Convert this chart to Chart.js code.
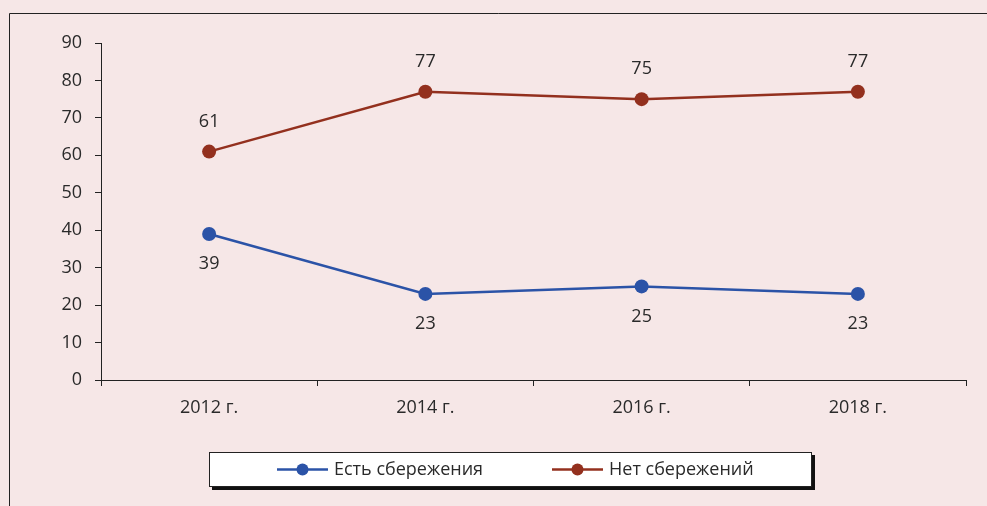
<!DOCTYPE html>
<html>
<head>
<meta charset="utf-8">
<script src="https://cdn.jsdelivr.net/npm/chart.js@4"></script>
<style>
html,body{margin:0;padding:0;background:#F6E7E7;}
#wrap{position:relative;width:987px;height:506px;}
</style>
</head>
<body>
<div id="wrap"><canvas id="c" width="987" height="506"></canvas></div>
<script>
const categories = ['2012 г.', '2014 г.', '2016 г.', '2018 г.'];
const seriesNames = ['Есть сбережения', 'Нет сбережений'];
const savingsYes = [39, 23, 25, 23];
const savingsNo = [61, 77, 75, 77];
const yTicks = [0, 10, 20, 30, 40, 50, 60, 70, 80, 90];

const BLUE = '#2B53A7';
const RED = '#93301E';
const TEXT = '#2a2a2a';
const FONT = "'Open Sans', sans-serif";
const FS = 18;

const frame = {
  id: 'frame',
  beforeDraw(chart) {
    const ctx = chart.ctx;
    ctx.save();
    ctx.fillStyle = '#F6E7E7';
    ctx.fillRect(0, 0, chart.width, chart.height);
    ctx.strokeStyle = '#222';
    ctx.lineWidth = 1;
    ctx.beginPath();
    ctx.moveTo(9.5, chart.height + 5);
    ctx.lineTo(9.5, 13.5);
    ctx.lineTo(chart.width + 5, 13.5);
    ctx.stroke();
    ctx.restore();
  }
};

const labels = {
  id: 'valueLabels',
  afterDatasetsDraw(chart) {
    const ctx = chart.ctx;
    ctx.save();
    ctx.font = FS + 'px ' + FONT;
    ctx.fillStyle = TEXT;
    ctx.textAlign = 'center';
    ctx.textBaseline = 'middle';
    chart.data.datasets.forEach((ds, i) => {
      const meta = chart.getDatasetMeta(i);
      meta.data.forEach((pt, j) => {
        const off = ds.labelPos === 'above' ? -30 : 30;
        ctx.fillText(String(ds.data[j]), pt.x, pt.y + off);
      });
    });
    ctx.restore();
  }
};

const legendBox = {
  id: 'legendBox',
  afterDraw(chart) {
    const ctx = chart.ctx;
    ctx.save();
    const x0 = 209, y0 = 452, x1 = 812, y1 = 487;
    ctx.fillStyle = '#111';
    ctx.fillRect(x0 + 3, y0 + 3, x1 - x0, y1 - y0);
    ctx.fillStyle = '#fff';
    ctx.fillRect(x0, y0, x1 - x0, y1 - y0);
    ctx.strokeStyle = '#222';
    ctx.lineWidth = 1;
    ctx.strokeRect(x0 + 0.5, y0 + 0.5, x1 - x0 - 1, y1 - y0 - 1);
    const cy = 469.5;
    const items = [
      {lx: 277, color: BLUE, text: seriesNames[0]},
      {lx: 552, color: RED, text: seriesNames[1]}
    ];
    ctx.font = FS + 'px ' + FONT;
    ctx.textBaseline = 'middle';
    items.forEach(it => {
      ctx.strokeStyle = it.color;
      ctx.lineWidth = 2.5;
      ctx.beginPath();
      ctx.moveTo(it.lx, cy);
      ctx.lineTo(it.lx + 51, cy);
      ctx.stroke();
      ctx.fillStyle = it.color;
      ctx.beginPath();
      ctx.arc(it.lx + 25.5, cy, 6, 0, Math.PI * 2);
      ctx.fill();
      ctx.fillStyle = TEXT;
      ctx.textAlign = 'left';
      ctx.fillText(it.text, it.lx + 57, cy);
    });
    ctx.restore();
  }
};

new Chart(document.getElementById('c'), {
  type: 'line',
  data: {
    labels: categories,
    datasets: [
      {label: seriesNames[0], data: savingsYes, borderColor: BLUE, backgroundColor: BLUE,
       borderWidth: 2.5, pointRadius: 7, pointHoverRadius: 7, pointBackgroundColor: BLUE, pointBorderWidth: 0,
       tension: 0, labelPos: 'below'},
      {label: seriesNames[1], data: savingsNo, borderColor: RED, backgroundColor: RED,
       borderWidth: 2.5, pointRadius: 7, pointHoverRadius: 7, pointBackgroundColor: RED, pointBorderWidth: 0,
       tension: 0, labelPos: 'above'}
    ]
  },
  options: {
    responsive: false,
    animation: false,
    devicePixelRatio: 1,
    layout: {padding: {left: 0, right: 21, top: 43, bottom: 0}},
    plugins: {legend: {display: false}, tooltip: {enabled: false}},
    scales: {
      x: {
        offset: true,
        grid: {display: true, drawOnChartArea: false, drawTicks: true, tickLength: 6, offset: true, color: '#222', lineWidth: 1},
        border: {display: true, color: '#222', width: 1},
        ticks: {color: TEXT, font: {family: FONT, size: FS}, padding: 11, maxRotation: 0},
        afterFit(scale) { scale.height = 126; }
      },
      y: {
        min: 0, max: 90,
        afterBuildTicks(scale) { scale.ticks = yTicks.map(v => ({value: v})); },
        grid: {display: true, drawOnChartArea: false, drawTicks: true, tickLength: 6, color: '#222', lineWidth: 1},
        border: {display: true, color: '#222', width: 1},
        ticks: {color: TEXT, font: {family: FONT, size: FS}, padding: 13},
        afterFit(scale) { scale.width = 101; }
      }
    }
  },
  plugins: [frame, labels, legendBox]
});
</script>
</body>
</html>
